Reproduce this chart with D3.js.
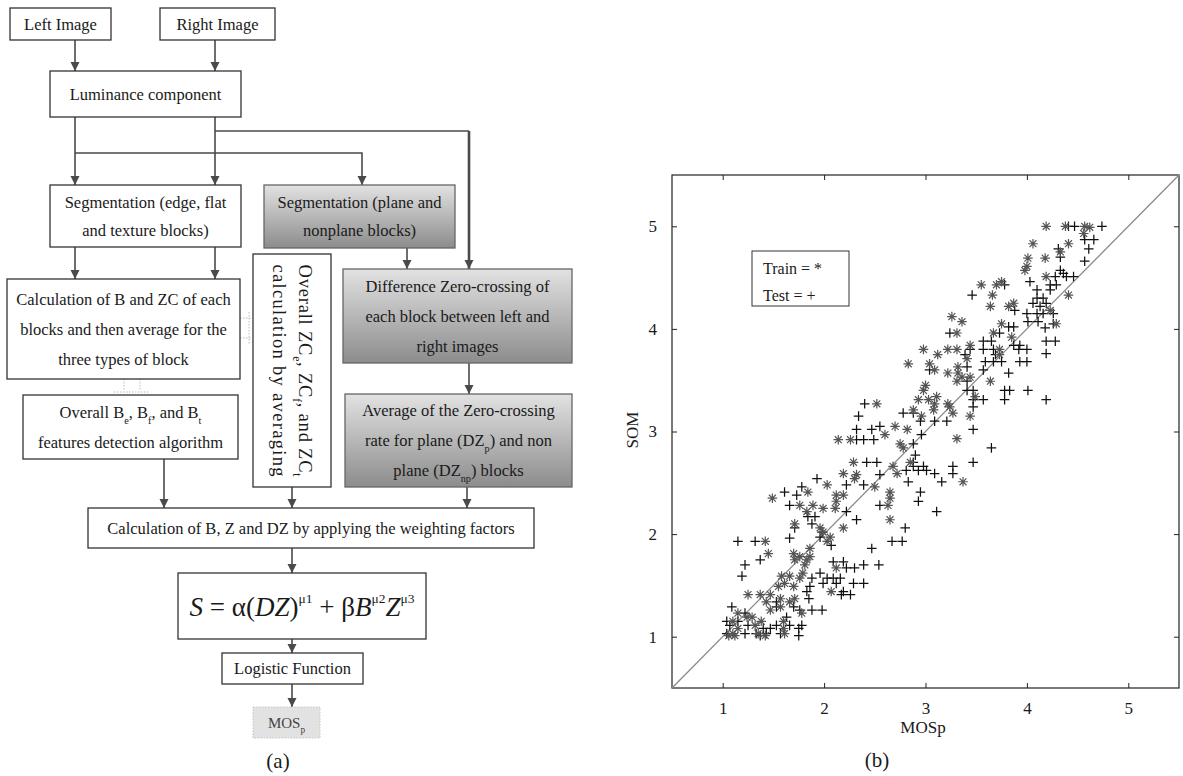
<!DOCTYPE html>
<html>
<head>
<meta charset="utf-8">
<script src="https://cdn.jsdelivr.net/npm/d3@7"></script>
<style>
  body { margin: 0; background: #fff; }
  text { font-family: "Liberation Serif", "Times New Roman", serif; fill: #1a1a1a; }
</style>
</head>
<body>
<div id="chart"></div>
<script>
// (a) flowchart of the quality metric, (b) SOM vs MOSp scatter

// ---- scatter data (MOSp, SOM) ----
const axisTicks = [1, 2, 3, 4, 5];

const trainPoints = [
  [4.19,5.00],[4.38,5.00],[4.57,5.00],[4.62,4.99],[4.56,4.93],[4.06,4.83],[4.41,4.83],[4.33,4.75],
  [4.01,4.69],[4.18,4.69],[4.00,4.61],[3.98,4.57],[4.19,4.51],[3.75,4.46],[3.55,4.43],[3.70,4.43],
  [3.66,4.33],[4.41,4.33],[3.87,4.25],[3.64,4.22],[3.82,4.22],[4.23,4.18],[3.26,4.12],[3.36,4.07],
  [3.75,4.05],[4.29,4.05],[3.31,3.96],[3.67,3.96],[3.85,3.92],[3.44,3.84],[2.98,3.80],[3.22,3.80],
  [3.31,3.80],[3.73,3.80],[3.12,3.75],[3.73,3.75],[3.41,3.71],[2.83,3.66],[3.04,3.66],[3.32,3.63],
  [3.09,3.60],[3.22,3.57],[3.32,3.57],[3.36,3.53],[3.44,3.53],[3.31,3.49],[3.64,3.49],[3.00,3.45],
  [2.98,3.40],[3.49,3.34],[3.11,3.34],[2.93,3.31],[3.03,3.31],[2.52,3.27],[3.09,3.27],[3.22,3.27],
  [3.24,3.24],[2.88,3.21],[3.08,3.21],[3.27,3.18],[3.44,3.15],[2.96,3.15],[2.70,3.05],[2.82,3.02],
  [2.60,2.97],[3.31,2.93],[2.26,2.92],[2.14,2.92],[2.75,2.88],[2.78,2.84],
  [2.29,2.70],[2.85,2.70],[2.68,2.66],[2.19,2.59],[2.72,2.59],[2.32,2.58],[2.30,2.54],[3.37,2.51],
  [2.03,2.48],[2.50,2.46],[1.84,2.41],[2.65,2.41],[2.12,2.38],[2.19,2.38],[1.49,2.35],[2.65,2.35],
  [2.12,2.32],[1.76,2.28],[1.89,2.28],[2.63,2.28],[1.99,2.25],[2.11,2.25],[1.83,2.22],[2.65,2.14],
  [1.71,2.10],[1.96,2.06],[2.19,2.06],[1.99,2.02],[2.06,1.97],[1.42,1.93],[2.03,1.93],[1.86,1.86],
  [1.45,1.81],[1.70,1.81],[1.76,1.78],[1.86,1.78],[1.71,1.75],[1.83,1.75],[1.81,1.70],[2.12,1.67],
  [1.79,1.62],[1.58,1.59],[1.66,1.59],[1.76,1.57],[1.61,1.52],[1.55,1.49],[1.70,1.49],[2.07,1.44],
  [1.25,1.41],[1.37,1.41],[1.47,1.41],[1.57,1.37],[1.71,1.37],[1.43,1.34],[1.66,1.34],[1.57,1.29],
  [1.47,1.26],[1.78,1.23],[1.15,1.23],[1.24,1.19],[1.29,1.19],[1.10,1.15],[1.38,1.15],[1.60,1.15],
  [1.32,1.11],[1.15,1.08],[1.60,1.08],[1.10,1.03],[1.35,1.03],[1.61,1.03],[1.06,1.01],[1.12,1.01],
  [1.42,1.01]
];

const testPoints = [
  [4.41,5.00],[4.47,5.00],[4.74,5.00],[4.57,4.87],[4.66,4.87],[4.61,4.78],[4.31,4.78],[4.33,4.70],
  [4.57,4.66],[4.33,4.57],[4.36,4.54],[4.28,4.51],[4.39,4.51],[4.46,4.51],[4.03,4.46],[3.78,4.43],
  [4.23,4.43],[4.29,4.43],[4.10,4.38],[4.23,4.38],[3.46,4.33],[4.10,4.30],[4.16,4.30],[4.06,4.25],
  [4.19,4.25],[4.13,4.22],[3.88,4.18],[4.00,4.15],[4.10,4.15],[4.16,4.15],[4.26,4.15],[4.01,4.07],
  [4.11,4.07],[4.26,4.05],[3.82,4.02],[3.87,4.02],[4.18,4.01],[3.24,3.96],[3.73,3.96],[3.57,3.88],
  [3.65,3.88],[4.19,3.88],[4.28,3.88],[3.87,3.84],[3.93,3.84],[3.44,3.80],[3.57,3.80],[3.67,3.80],
  [3.92,3.80],[4.00,3.80],[4.19,3.76],[3.39,3.75],[3.69,3.75],[3.59,3.68],[3.67,3.68],[3.75,3.68],
  [3.93,3.68],[4.00,3.68],[3.41,3.63],[3.04,3.60],[3.57,3.60],[3.82,3.57],[3.41,3.49],[3.41,3.40],
  [3.47,3.40],[3.78,3.40],[3.83,3.40],[4.01,3.40],[3.47,3.31],[3.57,3.31],[3.78,3.31],[4.19,3.31],
  [2.40,3.27],[3.47,3.24],[2.78,3.18],[2.88,3.18],[2.34,3.15],[2.95,3.10],[3.09,3.10],[3.21,3.10],
  [2.55,3.05],[2.32,3.02],[2.47,3.02],[3.47,3.02],[2.96,2.97],[2.49,2.92],[2.39,2.92],[2.32,2.92],
  [2.88,2.88],[3.65,2.84],[2.90,2.77],
  [2.42,2.70],[2.52,2.70],[2.88,2.70],[3.47,2.70],[3.27,2.66],[2.88,2.66],[2.98,2.66],[2.81,2.62],
  [2.93,2.62],[3.01,2.62],[3.27,2.59],[3.09,2.59],[2.55,2.58],[1.93,2.54],[2.83,2.51],[3.16,2.51],
  [2.22,2.48],[2.39,2.48],[1.78,2.46],[1.61,2.41],[2.95,2.41],[1.73,2.38],[2.93,2.32],[1.66,2.28],
  [2.55,2.28],[2.22,2.22],[3.11,2.22],[1.84,2.17],[1.91,2.17],[2.32,2.14],[1.88,2.10],[1.71,2.06],
  [2.80,2.06],[1.98,2.02],[1.96,1.97],[1.66,1.96],[1.15,1.93],[1.32,1.93],[2.67,1.93],[2.77,1.93],
  [2.07,1.89],[2.47,1.86],[1.37,1.75],[2.09,1.73],[2.19,1.73],[1.22,1.70],[2.54,1.70],[2.39,1.70],
  [2.22,1.67],[2.30,1.67],[1.96,1.62],[1.19,1.59],[1.88,1.57],[2.03,1.57],[2.09,1.57],[2.16,1.57],
  [2.29,1.52],[2.39,1.52],[2.12,1.52],[1.99,1.52],[1.86,1.49],[1.83,1.44],[2.19,1.44],[2.26,1.41],
  [2.17,1.41],[1.85,1.37],[1.53,1.34],[1.09,1.29],[1.70,1.29],[1.53,1.29],[1.88,1.26],[1.98,1.26],
  [1.76,1.26],[1.22,1.23],[1.63,1.19],[1.15,1.15],[1.04,1.15],[1.07,1.11],[1.25,1.11],[1.53,1.11],
  [1.66,1.11],[1.78,1.11],[1.47,1.08],[1.40,1.08],[1.75,1.08],[1.04,1.03],[1.22,1.03],[1.33,1.03],
  [1.43,1.03],[1.57,1.03],[1.37,1.01],[1.75,1.01]
];

const legendLabels = ['Train = *', 'Test = +'];

// ---- flowchart text ----
const flowBoxes = [
  {x: 10,  y: 8,   w: 101, h: 32,  lines: ['Left Image']},
  {x: 160, y: 8,   w: 115, h: 32,  lines: ['Right Image']},
  {x: 50,  y: 71,  w: 191, h: 46,  lines: ['Luminance component']},
  {x: 50,  y: 185, w: 191, h: 62,  lines: ['Segmentation (edge, flat', 'and texture blocks)'], gap: 28},
  {x: 264, y: 185, w: 191, h: 63,  lines: ['Segmentation (plane and', 'nonplane blocks)'], gap: 28, shade: true},
  {x: 7,   y: 279, w: 233, h: 100, lines: ['Calculation of B and ZC of each', 'blocks and then average for the', 'three types of block']},
  {x: 23,  y: 395, w: 215, h: 64,  lines: ['Overall B_{e}, B_{f}, and B_{t}', 'features detection algorithm']},
  {x: 253, y: 254, w: 78,  h: 233, lines: ['Overall ZC_{e}, ZC_{f}, and ZC_{t}', 'calculation by averaging'], vertical: true, gap: 26},
  {x: 343, y: 269, w: 229, h: 94,  lines: ['Difference Zero-crossing of', 'each block between left and', 'right images'], shade: true},
  {x: 345, y: 394, w: 227, h: 93,  lines: ['Average of the Zero-crossing', 'rate for plane (DZ_{p}) and non', 'plane (DZ_{np}) blocks'], shade: true},
  {x: 88,  y: 508, w: 446, h: 40,  lines: ['Calculation of B, Z and DZ by applying the weighting factors']},
  {x: 222, y: 653, w: 141, h: 31,  lines: ['Logistic Function']},
  {x: 253, y: 707, w: 67,  h: 31,  lines: ['MOS_{p}'], dotted: true}
];

const formulaBox = {x: 178, y: 573, w: 248, h: 66};
const formulaParts = [
  {t: 'S', i: true}, {t: ' = '}, {t: 'α'}, {t: '('}, {t: 'DZ', i: true}, {t: ')'}, {t: 'μ1', sup: true},
  {t: ' + '}, {t: 'β'}, {t: 'B', i: true}, {t: 'μ2', sup: true}, {t: 'Z', i: true}, {t: 'μ3', sup: true}
];

// arrows: polylines, arrowhead at the last point
const arrows = [
  [[75, 40], [75, 71]], [[215, 40], [215, 71]],
  [[75, 117], [75, 185]], [[215, 117], [215, 185]],
  [[75, 153], [362, 153], [362, 185]],
  [[75, 247], [75, 279]], [[215, 247], [215, 279]],
  [[407, 248], [407, 269]], [[469, 363], [469, 394]],
  [[164, 459], [164, 508]], [[292, 487], [292, 508]], [[467, 487], [467, 508]],
  [[292, 548], [292, 573]], [[292, 639], [292, 653]], [[292, 684], [292, 707]]
];

const svg = d3.select('#chart').append('svg')
    .attr('width', 1183)
    .attr('height', 776);

svg.append('rect').attr('width', 1183).attr('height', 776).attr('fill', '#fff');

const defs = svg.append('defs');
const grad = defs.append('linearGradient').attr('id', 'shade')
    .attr('x1', 0).attr('y1', 0).attr('x2', 0).attr('y2', 1);
grad.append('stop').attr('offset', '0%').attr('stop-color', '#e2e2e2');
grad.append('stop').attr('offset', '100%').attr('stop-color', '#8c8c8c');

defs.append('marker').attr('id', 'arrow')
    .attr('markerUnits', 'userSpaceOnUse')
    .attr('markerWidth', 10).attr('markerHeight', 10)
    .attr('refX', 9).attr('refY', 4.5)
    .attr('orient', 'auto')
    .append('path')
    .attr('d', 'M0,0 L9,4.5 L0,9 Z')
    .attr('fill', '#4a4a4a');

// text with _{sub} markup
function richText(sel, str) {
  str.split(/(_\{[^}]*\})/).filter(s => s.length).forEach(s => {
    if (s.startsWith('_{')) {
      sel.append('tspan').attr('font-size', '0.62em').attr('baseline-shift', 'sub').text(s.slice(2, -1));
    } else {
      sel.append('tspan').text(s);
    }
  });
}

// ---------- (a) flowchart ----------
const flow = svg.append('g').attr('class', 'flow');

// the thick branch from luminance to the difference box
flow.append('path')
    .attr('d', d3.line()([[215, 131], [469, 131]]))
    .attr('fill', 'none').attr('stroke', '#4a4a4a').attr('stroke-width', 1.5);
flow.append('path')
    .attr('d', d3.line()([[469, 131], [469, 269]]))
    .attr('fill', 'none').attr('stroke', '#4a4a4a').attr('stroke-width', 2.6)
    .attr('marker-end', 'url(#arrow)');

arrows.forEach(pts => {
  flow.append('path')
      .attr('d', d3.line()(pts))
      .attr('fill', 'none')
      .attr('stroke', '#4a4a4a')
      .attr('stroke-width', 1.6)
      .attr('marker-end', 'url(#arrow)');
});

// faint dotted connectors
const dotted = [
  [[240, 318], [252, 318]], [[240, 338], [252, 338]], [[249, 312], [249, 344]],
  [[124, 379], [124, 391]], [[140, 379], [140, 391]], [[114, 392], [150, 392]]
];
dotted.forEach(pts => {
  flow.append('path').attr('d', d3.line()(pts))
      .attr('stroke', '#bbb').attr('stroke-width', 1).attr('stroke-dasharray', '1.5,1.5');
});

flowBoxes.forEach(b => {
  flow.append('rect')
      .attr('x', b.x).attr('y', b.y).attr('width', b.w).attr('height', b.h)
      .attr('fill', b.shade ? 'url(#shade)' : (b.dotted ? '#e2e2e2' : '#fff'))
      .attr('stroke', b.dotted ? '#c4c4c4' : (b.shade ? '#666' : '#333'))
      .attr('stroke-width', b.dotted ? 1 : 1.3)
      .attr('stroke-dasharray', b.dotted ? '1.5,1.5' : null);

  const cx = b.x + b.w / 2, cy = b.y + b.h / 2;
  const gap = b.gap || 30;
  const n = b.lines.length;
  const g = flow.append('g')
      .attr('transform', b.vertical ? `translate(${cx},${cy}) rotate(90)` : `translate(${cx},${cy})`);
  b.lines.forEach((line, i) => {
    const t = g.append('text')
        .attr('x', 0)
        .attr('y', (i - (n - 1) / 2) * gap)
        .attr('dy', '0.35em')
        .attr('text-anchor', 'middle')
        .style('font-size', b.dotted ? '15px' : (b.vertical ? '18.5px' : '16.5px'))
        .style('fill', b.dotted ? '#444' : '#1a1a1a');
    if (b.vertical) t.attr('textLength', 212).attr('lengthAdjust', 'spacing');
    richText(t, line);
  });
});

// formula box
flow.append('rect')
    .attr('x', formulaBox.x).attr('y', formulaBox.y)
    .attr('width', formulaBox.w).attr('height', formulaBox.h)
    .attr('fill', '#fff').attr('stroke', '#333').attr('stroke-width', 1.3);
const ft = flow.append('text')
    .attr('x', formulaBox.x + formulaBox.w / 2)
    .attr('y', formulaBox.y + formulaBox.h / 2 + 10)
    .attr('text-anchor', 'middle')
    .style('font-size', '27px');
formulaParts.forEach(p => {
  const s = ft.append('tspan').text(p.t);
  if (p.i) s.style('font-style', 'italic');
  if (p.sup) s.attr('font-size', '0.5em').attr('baseline-shift', '95%');
});

flow.append('text')
    .attr('x', 278).attr('y', 768)
    .attr('text-anchor', 'middle')
    .style('font-size', '21px')
    .text('(a)');

// ---------- (b) scatter ----------
const plot = {left: 672, right: 1179, top: 175, bottom: 688};

const xScale = d3.scaleLinear().domain([0.5, 5.5]).range([plot.left, plot.right]);
const yScale = d3.scaleLinear().domain([0.5, 5.5]).range([plot.bottom, plot.top]);

const sc = svg.append('g').attr('class', 'scatter');

sc.append('rect')
    .attr('x', plot.left).attr('y', plot.top)
    .attr('width', plot.right - plot.left).attr('height', plot.bottom - plot.top)
    .attr('fill', 'none').attr('stroke', '#222').attr('stroke-width', 1.2);

function styleAxis(g) {
  g.select('.domain').remove();
  g.selectAll('line').attr('stroke', '#222');
  g.selectAll('text').style('font-family', '"Liberation Serif", serif').style('font-size', '17px').attr('fill', '#222');
}

sc.append('g')
    .attr('transform', `translate(0,${plot.bottom})`)
    .call(d3.axisBottom(xScale).tickValues(axisTicks).tickSize(-5).tickPadding(14).tickFormat(d3.format('d')))
    .call(styleAxis);
sc.append('g')
    .attr('transform', `translate(0,${plot.top})`)
    .call(d3.axisTop(xScale).tickValues(axisTicks).tickSize(-5).tickFormat(''))
    .call(styleAxis);
sc.append('g')
    .attr('transform', `translate(${plot.left},0)`)
    .call(d3.axisLeft(yScale).tickValues(axisTicks).tickSize(-5).tickPadding(15).tickFormat(d3.format('d')))
    .call(styleAxis);
sc.append('g')
    .attr('transform', `translate(${plot.right},0)`)
    .call(d3.axisRight(yScale).tickValues(axisTicks).tickSize(-5).tickFormat(''))
    .call(styleAxis);

// y = x reference line
sc.append('line')
    .attr('x1', xScale(0.5)).attr('y1', yScale(0.5))
    .attr('x2', xScale(5.5)).attr('y2', yScale(5.5))
    .attr('stroke', '#8a8a8a').attr('stroke-width', 1.3);

const r = 4.8, d = r * 0.72;
const plusPath = `M${-r},0H${r}M0,${-r}V${r}`;
const starPath = plusPath + `M${-d},${-d}L${d},${d}M${-d},${d}L${d},${-d}`;

sc.append('g').selectAll('path')
    .data(testPoints)
    .enter()
    .append('path')
    .attr('transform', p => `translate(${xScale(p[0])},${yScale(p[1])})`)
    .attr('d', plusPath)
    .attr('fill', 'none')
    .attr('stroke', '#111')
    .attr('stroke-width', 1.25);

sc.append('g').selectAll('path')
    .data(trainPoints)
    .enter()
    .append('path')
    .attr('transform', p => `translate(${xScale(p[0])},${yScale(p[1])})`)
    .attr('d', starPath)
    .attr('fill', 'none')
    .attr('stroke', '#555')
    .attr('stroke-width', 1.2);

// legend
sc.append('rect')
    .attr('x', 752).attr('y', 251).attr('width', 97).attr('height', 55)
    .attr('fill', '#fff').attr('stroke', '#333').attr('stroke-width', 1);
legendLabels.forEach((lab, i) => {
  sc.append('text')
      .attr('x', 763).attr('y', 274 + i * 27)
      .style('font-size', '16px')
      .text(lab);
});

// axis titles
sc.append('text')
    .attr('x', 923).attr('y', 733)
    .attr('text-anchor', 'middle')
    .style('font-size', '17px')
    .text('MOSp');
sc.append('text')
    .attr('transform', 'translate(638,430) rotate(-90)')
    .attr('text-anchor', 'middle')
    .style('font-size', '17px')
    .text('SOM');
sc.append('text')
    .attr('x', 877).attr('y', 767)
    .attr('text-anchor', 'middle')
    .style('font-size', '21px')
    .text('(b)');
</script>
</body>
</html>
